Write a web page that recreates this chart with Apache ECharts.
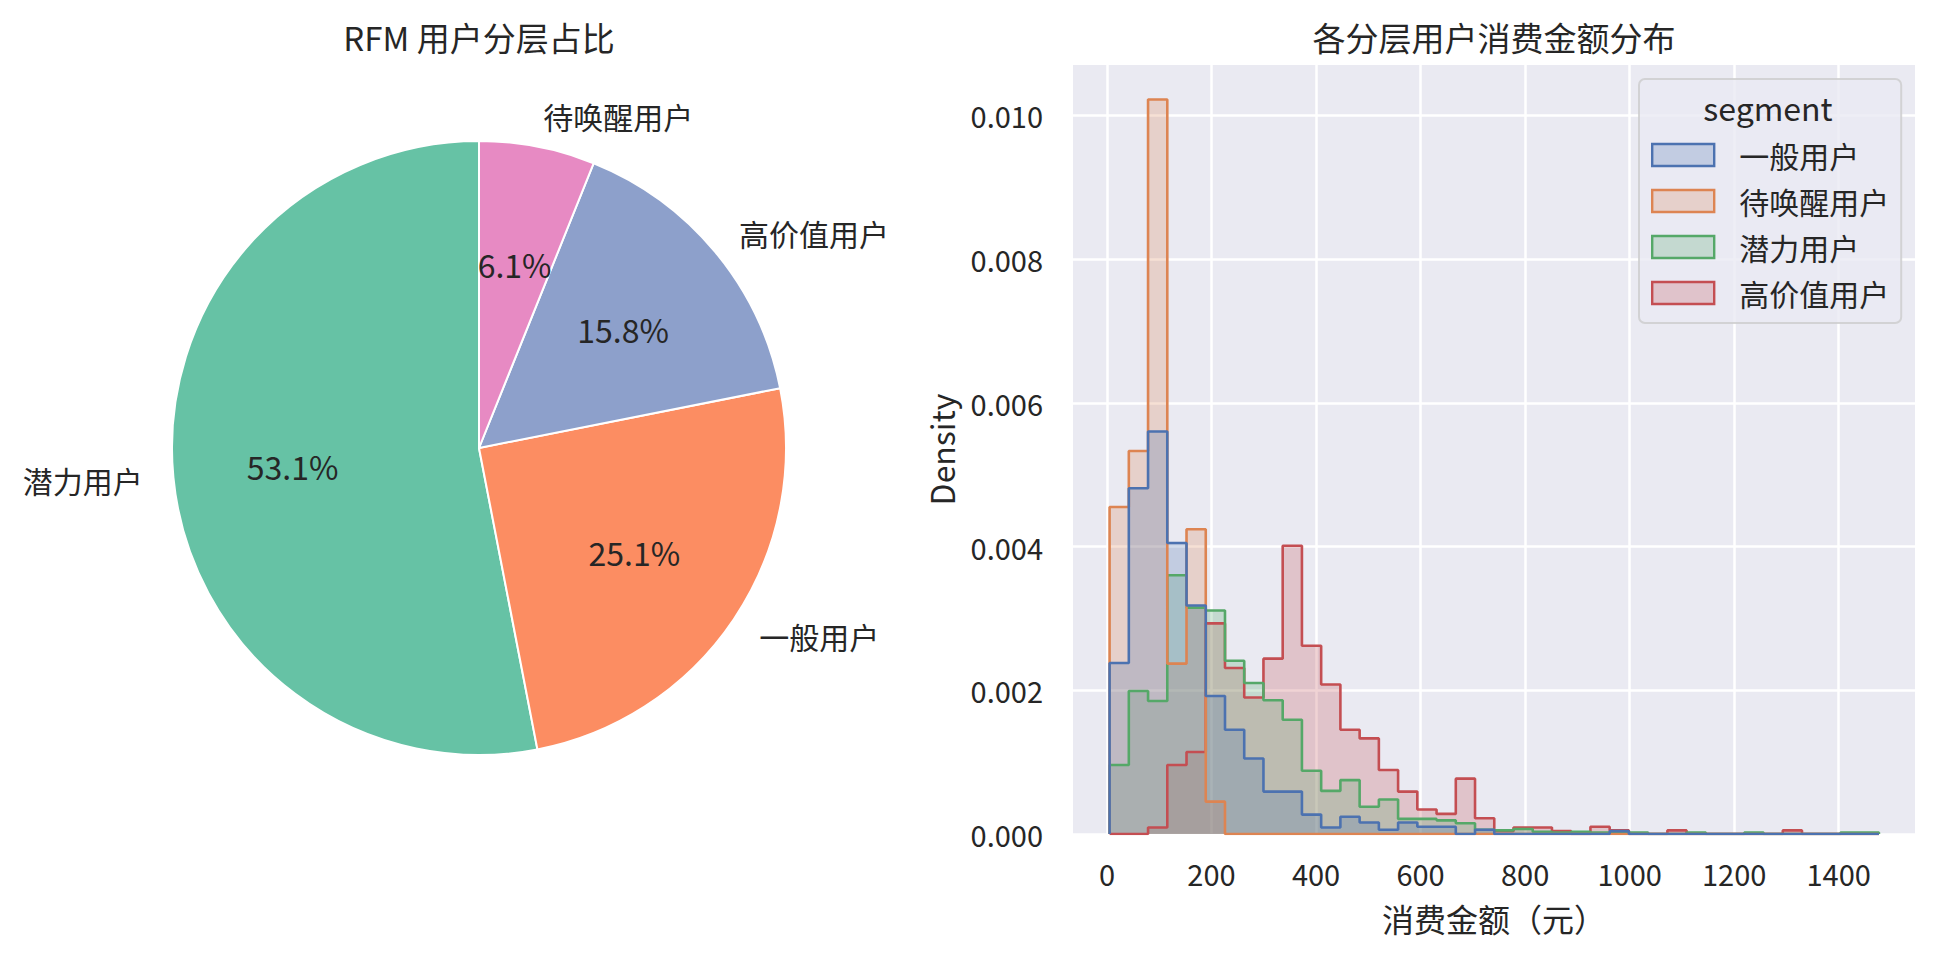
<!DOCTYPE html>
<html>
<head>
<meta charset="utf-8">
<script src="https://cdn.jsdelivr.net/npm/echarts@6/dist/echarts.min.js"></script>
<style>
html,body{margin:0;padding:0;background:#ffffff;}
#chart{width:1936px;height:957px;}
</style>
</head>
<body>
<div id="chart"></div>
<script>
// ---------- Pie data ----------
const pieNames = ['潜力用户', '一般用户', '高价值用户', '待唤醒用户'];
const pieShares = [53.1, 25.1, 15.8, 6.1];
const pieColors = ['#66c2a5', '#fc8d62', '#8da0cb', '#e78ac3'];

// ---------- Histogram data (density per bin, 40 common bins) ----------
const binStart = 5;
const binWidth = 36.8;
const densityGeneral = [0.00238,0.00481,0.00560,0.00405,0.00318,0.00192,0.00145,0.00105,0.00059,0.00059,
  0.00027,0.00009,0.00024,0.00016,0.00006,0.00016,0.00010,0.00010,0,0.00006,
  0,0,0,0,0,0,0.00004,0,0,0,
  0,0,0,0,0,0,0,0,0,0];
const densityDormant = [0.00455,0.00533,0.01022,0.00237,0.00424,0.00045,0,0,0,0,
  0,0,0,0,0,0,0,0,0,0,
  0,0,0,0,0,0,0,0,0,0,
  0,0,0,0,0,0,0,0,0,0];
const densityPotential = [0.00096,0.00199,0.00185,0.00360,0.00315,0.00311,0.00241,0.00210,0.00186,0.00159,
  0.00088,0.00060,0.00075,0.00038,0.00048,0.00021,0.00021,0.00019,0.00015,0.00006,
  0.00005,0.00007,0.00003,0.00002,0.00003,0.00002,0.00002,0.00002,0,0,
  0.00002,0,0,0.00002,0,0,0,0,0.00002,0.00002];
const densityHighValue = [0,0,0.00009,0.00096,0.00114,0.00293,0.00231,0.00190,0.00244,0.00401,
  0.00262,0.00208,0.00145,0.00133,0.00089,0.00059,0.00034,0.00028,0.00077,0.00022,
  0.00004,0.00009,0.00009,0.00004,0,0.00010,0.00005,0,0,0.00005,
  0,0,0,0,0,0.00005,0,0,0,0];

const xTicks = [0, 200, 400, 600, 800, 1000, 1200, 1400];
const yTicks = [0, 0.002, 0.004, 0.006, 0.008, 0.010];

const legendOrder = ['一般用户', '待唤醒用户', '潜力用户', '高价值用户'];
const histColors = {
  '一般用户': ['#4C72B0', 'rgba(76,114,176,0.25)'],
  '待唤醒用户': ['#DD8452', 'rgba(221,132,82,0.25)'],
  '潜力用户': ['#55A868', 'rgba(85,168,104,0.25)'],
  '高价值用户': ['#C44E52', 'rgba(196,78,82,0.25)']
};
const histValues = {
  '一般用户': densityGeneral,
  '待唤醒用户': densityDormant,
  '潜力用户': densityPotential,
  '高价值用户': densityHighValue
};

const FONT = '"Noto Sans CJK SC", "Noto Sans", sans-serif';
const TXT = '#262626';

function stepData(vals) {
  const pts = [[binStart, 0]];
  for (let i = 0; i < vals.length; i++) {
    pts.push([binStart + binWidth * i, vals[i]]);
  }
  pts.push([binStart + binWidth * vals.length, 0]);
  return pts;
}

// draw order: first hue on top (as seaborn)
const drawOrder = ['高价值用户', '潜力用户', '待唤醒用户', '一般用户'];
const histSeries = drawOrder.map(name => ({
  name: name,
  type: 'line',
  step: 'end',
  data: stepData(histValues[name]),
  showSymbol: false,
  symbol: 'none',
  silent: true,
  lineStyle: { color: histColors[name][0], width: 2.6 },
  itemStyle: { color: histColors[name][0] },
  areaStyle: { color: histColors[name][1], opacity: 1 },
  emphasis: { disabled: true },
  z: 2
}));

const chart = echarts.init(document.getElementById('chart'), null, { renderer: 'svg', width: 1936, height: 957 });

const option = {
  animation: false,
  backgroundColor: '#ffffff',
  textStyle: { fontFamily: FONT, color: TXT },
  graphic: [
    { type: 'text', x: 479, y: 37, z: 10,
      style: { text: 'RFM 用户分层占比', font: '33px ' + FONT, fill: TXT, align: 'center', verticalAlign: 'middle' } },
    { type: 'text', x: 1494, y: 37, z: 10,
      style: { text: '各分层用户消费金额分布', font: '33px ' + FONT, fill: TXT, align: 'center', verticalAlign: 'middle' } },
    { type: 'text', x: 1768, y: 107, z: 100, zlevel: 0,
      style: { text: 'segment', font: '32px ' + FONT, fill: TXT, align: 'center', verticalAlign: 'middle' } }
  ],
  grid: {
    left: 1073, top: 65, width: 842, height: 769,
    show: true, backgroundColor: '#EAEAF2', borderWidth: 0
  },
  xAxis: {
    type: 'value', min: -65, max: 1546,
    axisLine: { show: false },
    axisTick: { show: false, customValues: xTicks },
    axisLabel: { customValues: xTicks, fontSize: 29, color: TXT, fontFamily: FONT, margin: 24,
      formatter: v => String(Math.round(v)) },
    splitLine: { show: true, lineStyle: { color: '#ffffff', width: 2.5 } },
    name: '消费金额（元）', nameLocation: 'middle', nameGap: 68,
    nameTextStyle: { fontSize: 32, color: TXT, fontFamily: FONT }
  },
  yAxis: {
    type: 'value', min: 0, max: 0.0107,
    axisLine: { show: false },
    axisTick: { show: false, customValues: yTicks },
    axisLabel: { customValues: yTicks, fontSize: 29, color: TXT, fontFamily: FONT, margin: 30,
      formatter: v => v.toFixed(3) },
    splitLine: { show: true, lineStyle: { color: '#ffffff', width: 2.5 } },
    name: 'Density', nameLocation: 'middle', nameGap: 116,
    nameTextStyle: { fontSize: 32, color: TXT, fontFamily: FONT }
  },
  legend: {
    orient: 'vertical', left: 1639, top: 79,
    selectedMode: false,
    data: legendOrder.map(n => ({
      name: n, icon: 'rect',
      itemStyle: { color: histColors[n][1], borderColor: histColors[n][0], borderWidth: 2.4 }
    })),
    itemWidth: 62, itemHeight: 22, itemGap: 16,
    padding: [61, 12, 15, 12],
    backgroundColor: 'rgba(234,234,242,0.8)',
    borderColor: 'rgba(204,204,204,0.8)', borderWidth: 2, borderRadius: 6,
    textStyle: { fontSize: 30, color: TXT, fontFamily: FONT, padding: [0, 0, 0, 20], lineHeight: 30 }
  },
  series: [
    {
      type: 'pie', center: [479, 448], radius: 307,
      startAngle: 90, clockwise: false, avoidLabelOverlap: false,
      silent: true, emphasis: { disabled: true },
      data: pieNames.map((n, i) => ({ name: n, value: pieShares[i], itemStyle: { color: pieColors[i] } })),
      itemStyle: { borderColor: '#ffffff', borderWidth: 2 },
      label: { show: true, position: 'outside', formatter: '{b}', fontSize: 30, color: TXT,
        fontFamily: FONT, distanceToLabelLine: 0 },
      labelLine: { show: false, length: 30.7, length2: 0 }
    },
    {
      type: 'pie', center: [479, 448], radius: 368.4,
      startAngle: 90, clockwise: false, avoidLabelOverlap: false,
      silent: true, emphasis: { disabled: true },
      data: pieNames.map((n, i) => ({ name: n, value: pieShares[i] })),
      itemStyle: { color: 'rgba(0,0,0,0)', borderWidth: 0 },
      label: { show: true, position: 'inside', fontSize: 32, color: TXT, fontFamily: FONT,
        formatter: p => p.value.toFixed(1) + '%' },
      labelLine: { show: false },
      z: 3
    }
  ].concat(histSeries)
};

chart.setOption(option);
</script>
</body>
</html>
